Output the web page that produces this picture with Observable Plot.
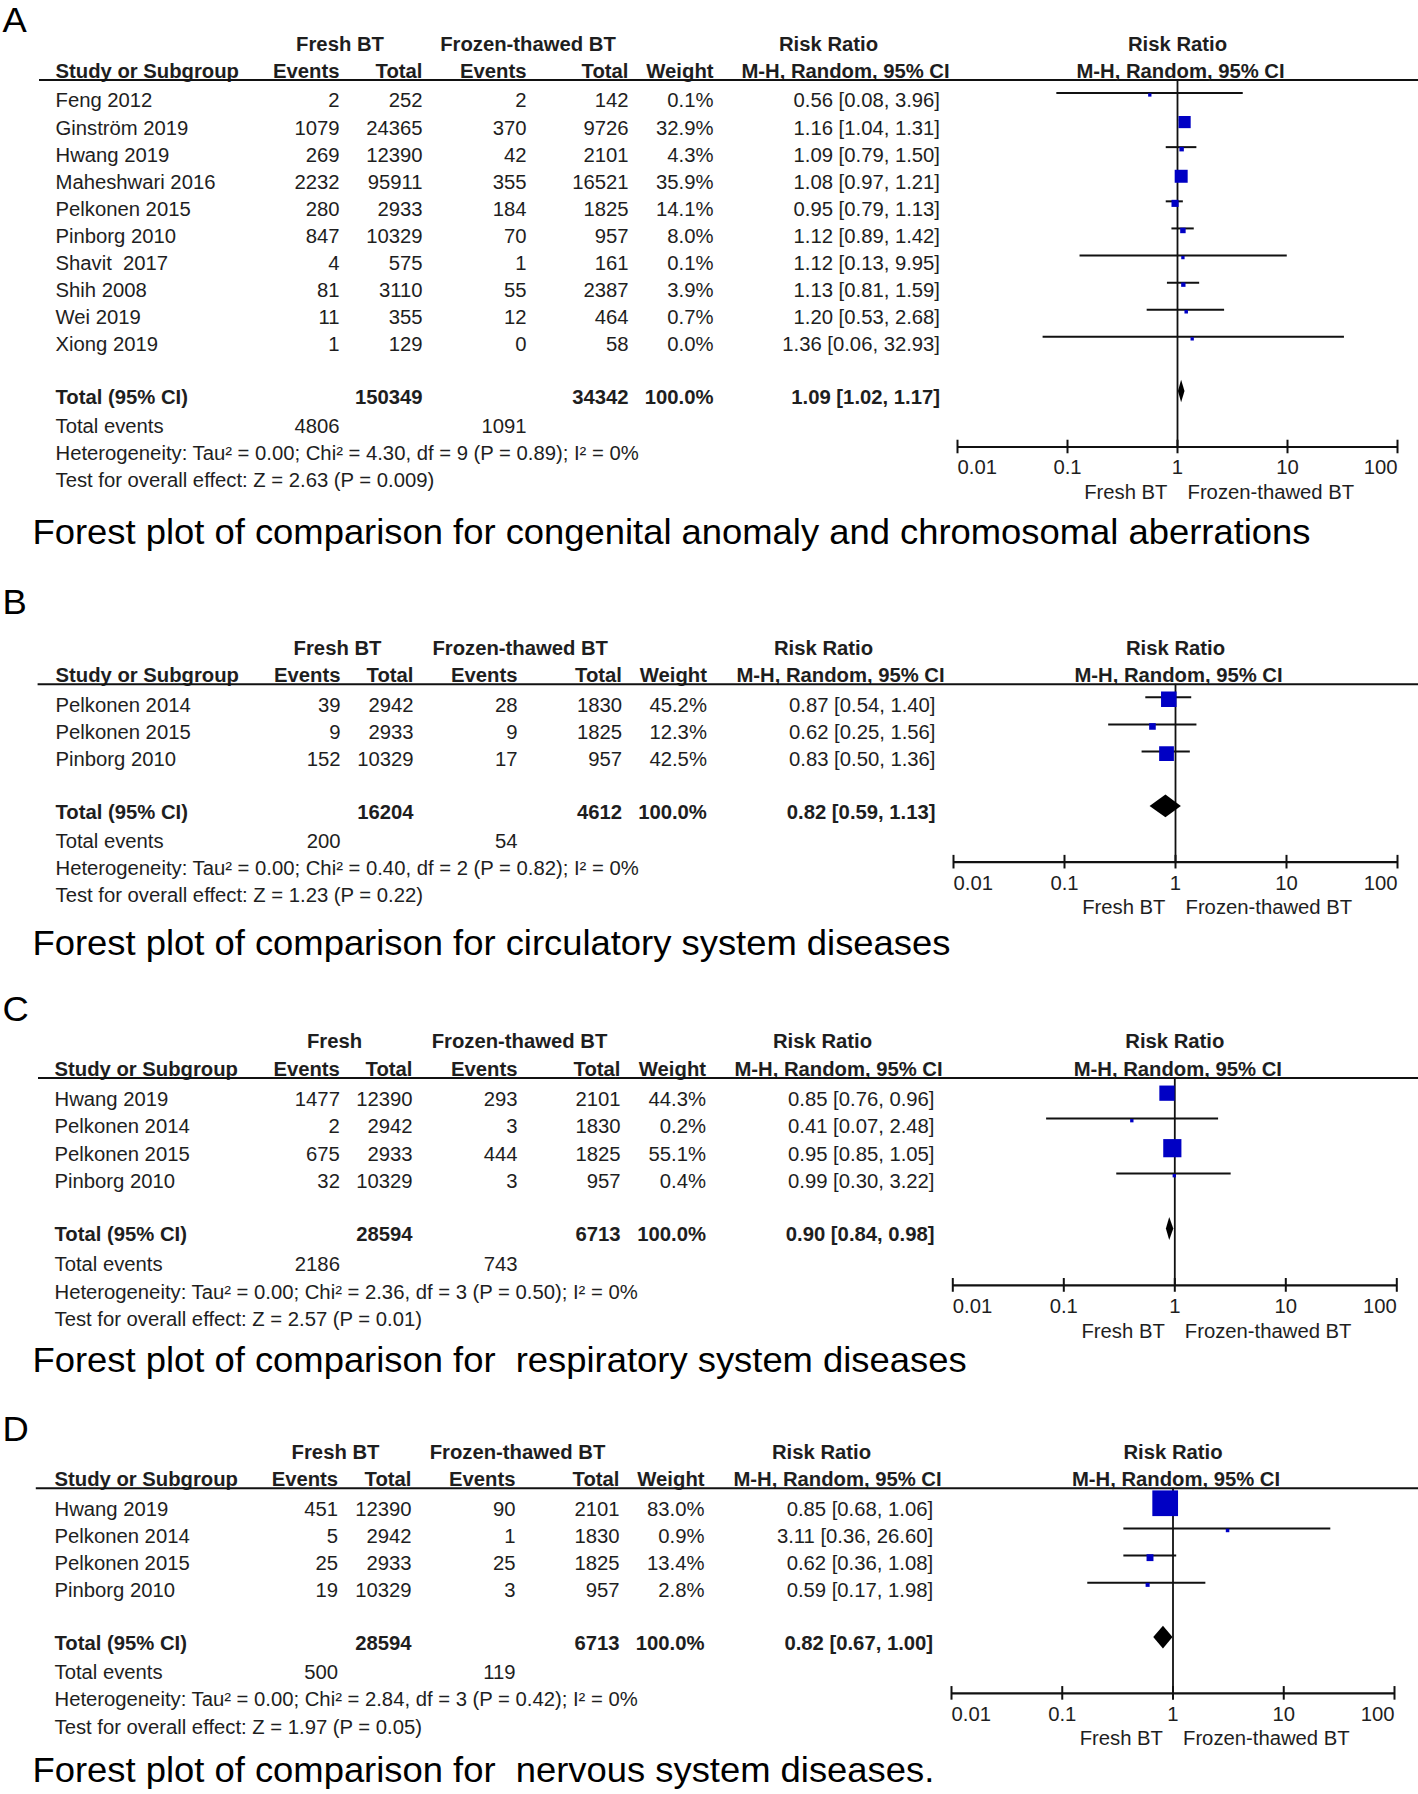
<!DOCTYPE html>
<html>
<head>
<meta charset="utf-8">
<script src="https://cdn.jsdelivr.net/npm/d3@7"></script>
<script src="https://cdn.jsdelivr.net/npm/@observablehq/plot@0.6"></script>
<style>
  html, body { margin: 0; padding: 0; background: #fff; }
  #fig { position: relative; width: 1418px; height: 1794px; overflow: hidden; background: #fff; }
  #fig svg { position: absolute; left: 0; }
  #fig svg text { white-space: pre; }
</style>
</head>
<body>
<div id="fig"></div>
<script>
// ---------------- labels ----------------
const panelLetters = ["A", "B", "C", "D"];
const captions = [
  "Forest plot of comparison for congenital anomaly and chromosomal aberrations",
  "Forest plot of comparison for circulatory system diseases",
  "Forest plot of comparison for  respiratory system diseases",
  "Forest plot of comparison for  nervous system diseases."
];
const freshGroupHeaders = ["Fresh BT", "Fresh BT", "Fresh", "Fresh BT"];
const frozenGroupHeader = "Frozen-thawed BT";
const effectHeader = "Risk Ratio";
const columnHeaders = ["Study or Subgroup", "Events", "Total", "Events", "Total", "Weight", "M-H, Random, 95% CI"];
const totalLabel = "Total (95% CI)";
const totalEventsLabel = "Total events";
const tickValues = [0.01, 0.1, 1, 10, 100];
const tickLabels = ["0.01", "0.1", "1", "10", "100"];
const sideLabels = ["Fresh BT", "Frozen-thawed BT"];

// ---------------- Panel A ----------------
const studiesA = ["Feng 2012", "Ginström 2019", "Hwang 2019", "Maheshwari 2016", "Pelkonen 2015", "Pinborg 2010", "Shavit  2017", "Shih 2008", "Wei 2019", "Xiong 2019"];
const freshEventsA = [2, 1079, 269, 2232, 280, 847, 4, 81, 11, 1];
const freshTotalA = [252, 24365, 12390, 95911, 2933, 10329, 575, 3110, 355, 129];
const frozenEventsA = [2, 370, 42, 355, 184, 70, 1, 55, 12, 0];
const frozenTotalA = [142, 9726, 2101, 16521, 1825, 957, 161, 2387, 464, 58];
const weightA = [0.1, 32.9, 4.3, 35.9, 14.1, 8.0, 0.1, 3.9, 0.7, 0.0];
const rrA = [0.56, 1.16, 1.09, 1.08, 0.95, 1.12, 1.12, 1.13, 1.20, 1.36];
const ciLowA = [0.08, 1.04, 0.79, 0.97, 0.79, 0.89, 0.13, 0.81, 0.53, 0.06];
const ciHighA = [3.96, 1.31, 1.50, 1.21, 1.13, 1.42, 9.95, 1.59, 2.68, 32.93];
const totalsA = [150349, 34342];       // fresh total, frozen total
const totalEventsA = [4806, 1091];
const pooledA = [1.09, 1.02, 1.17];    // RR, low, high
const hetA = "Heterogeneity: Tau² = 0.00; Chi² = 4.30, df = 9 (P = 0.89); I² = 0%";
const testA = "Test for overall effect: Z = 2.63 (P = 0.009)";

// ---------------- Panel B ----------------
const studiesB = ["Pelkonen 2014", "Pelkonen 2015", "Pinborg 2010"];
const freshEventsB = [39, 9, 152];
const freshTotalB = [2942, 2933, 10329];
const frozenEventsB = [28, 9, 17];
const frozenTotalB = [1830, 1825, 957];
const weightB = [45.2, 12.3, 42.5];
const rrB = [0.87, 0.62, 0.83];
const ciLowB = [0.54, 0.25, 0.50];
const ciHighB = [1.40, 1.56, 1.36];
const totalsB = [16204, 4612];
const totalEventsB = [200, 54];
const pooledB = [0.82, 0.59, 1.13];
const hetB = "Heterogeneity: Tau² = 0.00; Chi² = 0.40, df = 2 (P = 0.82); I² = 0%";
const testB = "Test for overall effect: Z = 1.23 (P = 0.22)";

// ---------------- Panel C ----------------
const studiesC = ["Hwang 2019", "Pelkonen 2014", "Pelkonen 2015", "Pinborg 2010"];
const freshEventsC = [1477, 2, 675, 32];
const freshTotalC = [12390, 2942, 2933, 10329];
const frozenEventsC = [293, 3, 444, 3];
const frozenTotalC = [2101, 1830, 1825, 957];
const weightC = [44.3, 0.2, 55.1, 0.4];
const rrC = [0.85, 0.41, 0.95, 0.99];
const ciLowC = [0.76, 0.07, 0.85, 0.30];
const ciHighC = [0.96, 2.48, 1.05, 3.22];
const totalsC = [28594, 6713];
const totalEventsC = [2186, 743];
const pooledC = [0.90, 0.84, 0.98];
const hetC = "Heterogeneity: Tau² = 0.00; Chi² = 2.36, df = 3 (P = 0.50); I² = 0%";
const testC = "Test for overall effect: Z = 2.57 (P = 0.01)";

// ---------------- Panel D ----------------
const studiesD = ["Hwang 2019", "Pelkonen 2014", "Pelkonen 2015", "Pinborg 2010"];
const freshEventsD = [451, 5, 25, 19];
const freshTotalD = [12390, 2942, 2933, 10329];
const frozenEventsD = [90, 1, 25, 3];
const frozenTotalD = [2101, 1830, 1825, 957];
const weightD = [83.0, 0.9, 13.4, 2.8];
const rrD = [0.85, 3.11, 0.62, 0.59];
const ciLowD = [0.68, 0.36, 0.36, 0.17];
const ciHighD = [1.06, 26.60, 1.08, 1.98];
const totalsD = [28594, 6713];
const totalEventsD = [500, 119];
const pooledD = [0.82, 0.67, 1.00];
const hetD = "Heterogeneity: Tau² = 0.00; Chi² = 2.84, df = 3 (P = 0.42); I² = 0%";
const testD = "Test for overall effect: Z = 1.97 (P = 0.05)";

// ---------------- assemble ----------------
const panels = [
  {studies: studiesA, fe: freshEventsA, ft: freshTotalA, ze: frozenEventsA, zt: frozenTotalA, w: weightA, rr: rrA, lo: ciLowA, hi: ciHighA, totals: totalsA, events: totalEventsA, pooled: pooledA, het: hetA, test: testA},
  {studies: studiesB, fe: freshEventsB, ft: freshTotalB, ze: frozenEventsB, zt: frozenTotalB, w: weightB, rr: rrB, lo: ciLowB, hi: ciHighB, totals: totalsB, events: totalEventsB, pooled: pooledB, het: hetB, test: testB},
  {studies: studiesC, fe: freshEventsC, ft: freshTotalC, ze: frozenEventsC, zt: frozenTotalC, w: weightC, rr: rrC, lo: ciLowC, hi: ciHighC, totals: totalsC, events: totalEventsC, pooled: pooledC, het: hetC, test: testC},
  {studies: studiesD, fe: freshEventsD, ft: freshTotalD, ze: frozenEventsD, zt: frozenTotalD, w: weightD, rr: rrD, lo: ciLowD, hi: ciHighD, totals: totalsD, events: totalEventsD, pooled: pooledD, het: hetD, test: testD}
];

// layout (pixels) per panel
const layouts = [
  {top: 0, height: 560, row0: 100.7, step: 27.1, letterY: 20, captionY: 532, lineX0: 39,
   cols: {study: 55, e1: 339, t1: 422, e2: 526, t2: 628, w: 713, rr: 939.5}, g1: 339.5, g2: 527.5, rrHead: 828, mhHead: 845, axis: [957, 1397]},
  {top: 560, height: 400, row0: 705, step: 27.2, letterY: 602, captionY: 943.5, lineX0: 37.6,
   cols: {study: 55, e1: 340, t1: 413, e2: 517, t2: 621.5, w: 706.4, rr: 935}, g1: 337, g2: 519.7, rrHead: 823, mhHead: 840, axis: [953, 1397]},
  {top: 960, height: 420, row0: 1099, step: 27.5, letterY: 1009, captionY: 1360, lineX0: 38,
   cols: {study: 54, e1: 339.4, t1: 412, e2: 517, t2: 620, w: 705.5, rr: 934}, g1: 334, g2: 519, rrHead: 822, mhHead: 838, axis: [952.3, 1396.3]},
  {top: 1380, height: 414, row0: 1509, step: 27.2, letterY: 1429, captionY: 1770, lineX0: 35.8,
   cols: {study: 54, e1: 337.6, t1: 411, e2: 515, t2: 619, w: 704, rr: 932.6}, g1: 335, g2: 517, rrHead: 821, mhHead: 837, axis: [951, 1394]}
];

const W = 1418;
const FS = 19.5;
const STRETCH = 1.04;   // the reference glyphs are slightly wider than Arial
const TEXT = "#1e1e1e";
const BLUE = "#0000c4";
const FONT = "'Liberation Sans', Arial, Helvetica, sans-serif";
const at = v => () => v;
const rectSymbol = {
  draw(context, size) {
    const r = Math.sqrt(size / Math.PI);
    context.moveTo(-r, -r); context.lineTo(r, -r); context.lineTo(r, r); context.lineTo(-r, r); context.closePath();
  }
};
const fmtRR = (rr, lo, hi) => `${rr.toFixed(2)} [${lo.toFixed(2)}, ${hi.toFixed(2)}]`;

function stretchText(svg, s) {
  svg.querySelectorAll("text").forEach(t => {
    const tr = t.getAttribute("transform");
    if (tr) {
      t.setAttribute("transform", tr + ` scale(${s},1)`);
    } else {
      const x = t.getAttribute("x") || 0, y = t.getAttribute("y") || 0;
      t.removeAttribute("x"); t.removeAttribute("y");
      t.setAttribute("transform", `translate(${x},${y}) scale(${s},1)`);
    }
  });
}

const fig = document.getElementById("fig");

panels.forEach((P, k) => {
  const L = layouts[k];
  const C = L.cols;
  const n = P.studies.length;
  const rows = P.studies.map((s, i) => ({i, study: s, fe: P.fe[i], ft: P.ft[i], ze: P.ze[i], zt: P.zt[i], w: P.w[i], rr: P.rr[i], lo: P.lo[i], hi: P.hi[i]}));
  const rGroup = -2.1, rHead = -1.08, rLine = -0.78;
  const rTotal = n - 1 + 1.93, rTE = rTotal + 1.07, rHet = rTotal + 2.08, rTest = rTotal + 3.08;
  const rAxis = rTotal + 1.83, rTick = rAxis + 0.78, rSide = rAxis + 1.68;
  const toRow = py => (py - L.row0) / L.step;
  const yScale = {type: "linear", domain: [toRow(L.top), toRow(L.top + L.height)], range: [0, L.height], axis: null};
  const style = {background: "transparent", fontFamily: FONT, fontSize: FS + "px", color: TEXT, overflow: "visible"};
  const T = (data, o) => Plot.text(data, {fontSize: FS, fill: TEXT, ...o});
  const id = d => d;

  // ---------- table (left) ----------
  const table = Plot.plot({
    width: W, height: L.height, margin: 0,
    x: {type: "identity", axis: null},
    y: yScale,
    style,
    marks: [
      T([panelLetters[k]], {x: at(2), y: at(toRow(L.letterY)), text: id, textAnchor: "start", fontSize: 35, fill: "#000"}),
      // group headers
      T([freshGroupHeaders[k]], {x: at(L.g1), y: at(rGroup), text: id, fontWeight: "bold"}),
      T([frozenGroupHeader], {x: at(L.g2), y: at(rGroup), text: id, fontWeight: "bold"}),
      T([effectHeader], {x: at(L.rrHead), y: at(rGroup), text: id, fontWeight: "bold"}),
      // column headers
      T([columnHeaders[0]], {x: at(C.study), y: at(rHead), text: id, textAnchor: "start", fontWeight: "bold"}),
      T([columnHeaders[1]], {x: at(C.e1), y: at(rHead), text: id, textAnchor: "end", fontWeight: "bold"}),
      T([columnHeaders[2]], {x: at(C.t1), y: at(rHead), text: id, textAnchor: "end", fontWeight: "bold"}),
      T([columnHeaders[3]], {x: at(C.e2), y: at(rHead), text: id, textAnchor: "end", fontWeight: "bold"}),
      T([columnHeaders[4]], {x: at(C.t2), y: at(rHead), text: id, textAnchor: "end", fontWeight: "bold"}),
      T([columnHeaders[5]], {x: at(C.w), y: at(rHead), text: id, textAnchor: "end", fontWeight: "bold"}),
      T([columnHeaders[6]], {x: at(L.mhHead), y: at(rHead), text: id, fontWeight: "bold"}),
      Plot.ruleY([rLine], {y: id, x1: at(L.lineX0), x2: at(W), stroke: "#111", strokeWidth: 2}),
      // study rows
      T(rows, {x: at(C.study), y: "i", text: "study", textAnchor: "start"}),
      T(rows, {x: at(C.e1), y: "i", text: d => String(d.fe), textAnchor: "end"}),
      T(rows, {x: at(C.t1), y: "i", text: d => String(d.ft), textAnchor: "end"}),
      T(rows, {x: at(C.e2), y: "i", text: d => String(d.ze), textAnchor: "end"}),
      T(rows, {x: at(C.t2), y: "i", text: d => String(d.zt), textAnchor: "end"}),
      T(rows, {x: at(C.w), y: "i", text: d => d.w.toFixed(1) + "%", textAnchor: "end"}),
      T(rows, {x: at(C.rr), y: "i", text: d => fmtRR(d.rr, d.lo, d.hi), textAnchor: "end"}),
      // total row
      T([totalLabel], {x: at(C.study), y: at(rTotal), text: id, textAnchor: "start", fontWeight: "bold"}),
      T([P.totals[0]], {x: at(C.t1), y: at(rTotal), text: d => String(d), textAnchor: "end", fontWeight: "bold"}),
      T([P.totals[1]], {x: at(C.t2), y: at(rTotal), text: d => String(d), textAnchor: "end", fontWeight: "bold"}),
      T(["100.0%"], {x: at(C.w), y: at(rTotal), text: id, textAnchor: "end", fontWeight: "bold"}),
      T([P.pooled], {x: at(C.rr), y: at(rTotal), text: d => fmtRR(d[0], d[1], d[2]), textAnchor: "end", fontWeight: "bold"}),
      // total events
      T([totalEventsLabel], {x: at(C.study), y: at(rTE), text: id, textAnchor: "start"}),
      T([P.events[0]], {x: at(C.e1), y: at(rTE), text: d => String(d), textAnchor: "end"}),
      T([P.events[1]], {x: at(C.e2), y: at(rTE), text: d => String(d), textAnchor: "end"}),
      // heterogeneity & test
      T([P.het], {x: at(C.study), y: at(rHet), text: id, textAnchor: "start"}),
      T([P.test], {x: at(C.study), y: at(rTest), text: id, textAnchor: "start"}),
      // caption
      T([captions[k]], {x: at(32), y: at(toRow(L.captionY)), text: id, textAnchor: "start", fontSize: 35, fill: "#000"})
    ]
  });

  // ---------- forest (right) ----------
  const rt = rTotal - 0.22;
  const diamond = [
    {x: P.pooled[1], y1: rt, y2: rt},
    {x: P.pooled[0], y1: rt - 0.415, y2: rt + 0.415},
    {x: P.pooled[2], y1: rt, y2: rt}
  ];
  const forest = Plot.plot({
    width: W, height: L.height, margin: 0,
    x: {type: "log", domain: [tickValues[0], tickValues[tickValues.length - 1]], range: L.axis, axis: null},
    y: yScale,
    r: {type: "linear", domain: [0, 100], range: [1.65, 15.15]},
    style,
    marks: [
      T([effectHeader], {x: at(1), y: at(rGroup), text: id, fontWeight: "bold"}),
      T([columnHeaders[6]], {x: at(1), y: at(rHead), text: id, fontWeight: "bold", dx: 3}),
      Plot.ruleX([1], {x: id, y1: at(rLine), y2: at(rAxis), stroke: "#111", strokeWidth: 1.8}),
      Plot.ruleY(rows, {y: d => d.i - 0.305, x1: "lo", x2: "hi", stroke: "#111", strokeWidth: 2}),
      Plot.dot(rows, {x: "rr", y: d => d.i - 0.23, r: "w", symbol: rectSymbol, fill: BLUE, stroke: "none"}),
      Plot.areaY(diamond, {x: "x", y1: "y1", y2: "y2", fill: "#000", curve: "linear"}),
      // axis
      Plot.ruleY([rAxis], {y: id, x1: at(tickValues[0]), x2: at(tickValues[tickValues.length - 1]), stroke: "#111", strokeWidth: 2.2}),
      Plot.ruleX(tickValues, {x: id, y1: at(rAxis - 0.25), y2: at(rAxis + 0.25), stroke: "#111", strokeWidth: 2}),
      T(tickValues.slice(0, 1), {x: id, y: at(rTick), text: () => tickLabels[0], textAnchor: "start"}),
      T(tickValues.slice(1, -1), {x: id, y: at(rTick), text: (d, i) => tickLabels[i + 1], textAnchor: "middle"}),
      T(tickValues.slice(-1), {x: id, y: at(rTick), text: () => tickLabels[tickLabels.length - 1], textAnchor: "end"}),
      T([sideLabels[0]], {x: at(1), y: at(rSide), text: id, textAnchor: "end", dx: -10}),
      T([sideLabels[1]], {x: at(1), y: at(rSide), text: id, textAnchor: "start", dx: 10})
    ]
  });

  for (const svg of [table, forest]) {
    stretchText(svg, STRETCH);
    svg.style.top = L.top + "px";
    fig.appendChild(svg);
  }
});
</script>
</body>
</html>
